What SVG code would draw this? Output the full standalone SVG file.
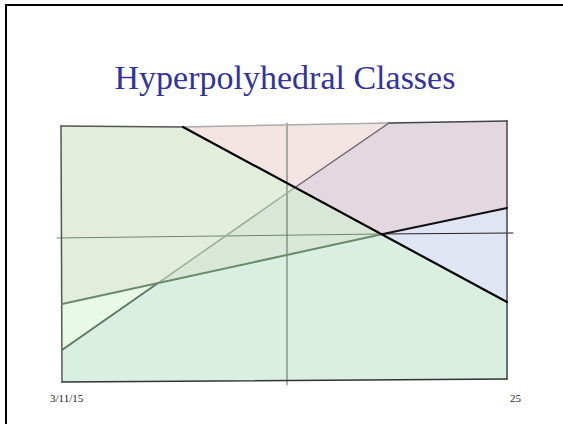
<svg xmlns="http://www.w3.org/2000/svg" width="563" height="424" viewBox="0 0 563 424">
<style>
.title{font-family:"Liberation Serif","Times New Roman",serif;font-size:34px;fill:#333399}
.foot{font-family:"Liberation Serif","Times New Roman",serif;font-size:11px;fill:#222}
.reg{stroke:none}
.edge{fill:none;stroke-linecap:round}
</style>
<rect width="563" height="424" fill="#fff"/>
<path d="M6,430 V5 H563" fill="none" stroke="#000" stroke-width="2"/>
<text class="title" x="285" y="89" text-anchor="middle">Hyperpolyhedral Classes</text>
<g id="regions">
<polygon id="pink" class="reg" fill="#f3e4e4" points="183,127 389,123 295,187.5"/>
<polygon id="purple" class="reg" fill="#e3d7e0" points="389,123 507,121 507,208 383,234 295,187.5"/>
<polygon id="blue" class="reg" fill="#e0e5f3" points="383,234 507,208 507,302"/>
<polygon id="leftgreen" class="reg" fill="#e2eddc" points="61,126 183,127 295,187.5 157.7,283.3 62,304"/>
<polygon id="overlap" class="reg" fill="#d9e7d9" points="157.7,283.3 295,187.5 383,234"/>
<polygon id="palegreen" class="reg" fill="#e8f9e8" points="62,304 157.7,283.3 62,350"/>
<polygon id="bottomgreen" class="reg" fill="#d9efe2" points="62,350 157.7,283.3 383,234 507,302 507,379 62,382"/>
</g>
<g id="connectors">
<line class="edge" x1="57" y1="238" x2="383" y2="234" stroke="#6f866f" stroke-width="1"/>
<line class="edge" x1="383" y1="234" x2="513" y2="233" stroke="#222" stroke-width="1"/>
<line class="edge" x1="287" y1="123" x2="287" y2="385" stroke="#5d6b5d" stroke-width="1"/>
<line class="edge" x1="61" y1="126" x2="183" y2="127" stroke="#555" stroke-width="1.5"/>
<line class="edge" x1="183" y1="127" x2="389" y2="123" stroke="#aaa" stroke-width="1.5"/>
<line class="edge" x1="389" y1="123" x2="507" y2="121" stroke="#444" stroke-width="1.5"/>
<line class="edge" x1="507" y1="121" x2="507" y2="379" stroke="#444" stroke-width="1.5"/>
<line class="edge" x1="61" y1="126" x2="62" y2="382" stroke="#555" stroke-width="1.5"/>
<line class="edge" x1="62" y1="382" x2="507" y2="379" stroke="#333" stroke-width="1.5"/>
<line class="edge" x1="62" y1="350" x2="157.7" y2="283.3" stroke="#5e7a62" stroke-width="2"/>
<line class="edge" x1="157.7" y1="283.3" x2="295" y2="187.5" stroke="#9aab97" stroke-width="1.5"/>
<line class="edge" x1="295" y1="187.5" x2="389" y2="123" stroke="#6f6468" stroke-width="1.5"/>
<line class="edge" x1="62" y1="304" x2="383" y2="234" stroke="#6b8a6b" stroke-width="2"/>
<line class="edge" x1="383" y1="234" x2="507" y2="208" stroke="#111" stroke-width="2"/>
<line class="edge" x1="183" y1="127" x2="507" y2="302" stroke="#000" stroke-width="2.2"/>
</g>
<text class="foot" x="50" y="402">3/11/15</text>
<text class="foot" x="521" y="402" text-anchor="end">25</text>
</svg>
